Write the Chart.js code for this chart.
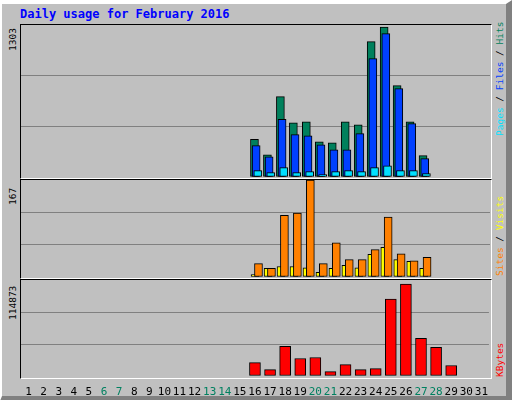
<!DOCTYPE html>
<html>
<head>
<meta charset="utf-8">
<script src="https://cdn.jsdelivr.net/npm/chart.js@4"></script>
<style>
  body { margin: 0; background: #c0c0c0; }
  #frame {
    position: absolute; left: 0; top: 0; width: 504px; height: 392px;
    background: #c0c0c0; border: 1px solid #000;
    border-top: 4px solid #fff; border-left: 2px solid #fff;
    border-right: 6px solid #808080; border-bottom: 5px solid #808080;
  }
  .panel {
    position: absolute; left: 20px; width: 470px;
    border-left: 1px solid #000; border-top: 1px solid #000;
    border-right: 1px solid #fff; border-bottom: 1px solid #fff;
  }
  canvas { position: absolute; }
  .txt { position: absolute; font: bold 12px "DejaVu Sans Mono", monospace; white-space: nowrap; }
  .rot { position: absolute; font: 9.5px "DejaVu Sans Mono", monospace; white-space: nowrap;
         transform-origin: 0 0; transform: rotate(-90deg); }
</style>
</head>
<body>
<div id="frame"></div>
<div class="txt" style="left:20px;top:7px;color:#0000ff">Daily usage for February 2016</div>

<div class="panel" style="top:24px;height:153px"></div>
<div class="panel" style="top:179px;height:98px"></div>
<div class="panel" style="top:279px;height:98px"></div>

<canvas id="top" style="left:21px;top:25px;width:469px;height:152px"></canvas>
<canvas id="mid" style="left:21px;top:180px;width:469px;height:97px"></canvas>
<canvas id="bot" style="left:21px;top:280px;width:469px;height:118px"></canvas>

<div class="rot" style="left:7px;top:51px">1303</div>
<div class="rot" style="left:7px;top:205px">167</div>
<div class="rot" style="left:7px;top:320px">114873</div>

<div class="rot" style="left:494px;top:136px"><span style="color:#00e0ff">Pages</span> / <span style="color:#0040ff">Files</span> / <span style="color:#00805c">Hits</span></div>
<div class="rot" style="left:494px;top:276px"><span style="color:#ff8000">Sites</span> / <span style="color:#ffff00">Visits</span></div>
<div class="rot" style="left:494px;top:377px"><span style="color:#ff0000">KBytes</span></div>

<script>
const days = [1,2,3,4,5,6,7,8,9,10,11,12,13,14,15,16,17,18,19,20,21,22,23,24,25,26,27,28,29,30,31];
const weekend = [6,7,13,14,20,21,27,28];
// values for days 1..31 (nothing before the 16th)
const hits   = [0,0,0,0,0,0,0,0,0,0,0,0,0,0,0,328,192,698,471,480,306,297,480,454,1176,1303,794,480,185,0,0];
const files  = [0,0,0,0,0,0,0,0,0,0,0,0,0,0,0,272,176,500,368,358,280,237,237,376,1028,1245,768,463,159,0,0];
const pages  = [0,0,0,0,0,0,0,0,0,0,0,0,0,0,0,55,38,81,38,46,20,46,55,46,81,98,55,55,29,0,0];
const visits = [0,0,0,0,0,0,0,0,0,0,0,0,0,0,0,4,15,18,18,16,8,15,20,16,39,51,30,27,15,0,0];
const sites  = [0,0,0,0,0,0,0,0,0,0,0,0,0,0,0,23,15,106,110,167,23,59,30,30,47,103,40,28,34,0,0];
const kbytes = [0,0,0,0,0,0,0,0,0,0,0,0,0,0,0,16800,8000,37000,21900,23100,5500,14300,8000,9300,96000,114873,47000,35700,13100,0,0];

function pts(vals, shift) {
  return vals.map((v, i) => ({ x: days[i] + shift, y: v || null }));
}
function bars(label, vals, color, shift, thick, order) {
  return { label, data: pts(vals, shift), backgroundColor: color, borderColor: '#000',
           borderWidth: 1, borderSkipped: false, barThickness: thick, grouped: false, order };
}
function yScale(max, step) {
  return {
    min: 0, max: max, display: true,
    ticks: { display: false, stepSize: step },
    border: { display: false },
    grid: { drawTicks: false, color: c => (c.tick.value > 0 && c.tick.value < max) ? '#808080' : 'rgba(0,0,0,0)' },
    afterFit: s => { s.width = 0; }
  };
}
const common = {
  responsive: false, animation: false,
  layout: { padding: 0 },
  plugins: { legend: { display: false }, tooltip: { enabled: false } }
};
function mk(id, w, h) {
  const c = document.getElementById(id);
  c.width = w; c.height = h;
  return c.getContext('2d');
}
const linX = { type: 'linear', min: 0.5, max: 31.5, display: false };

new Chart(mk('top', 469, 152), {
  type: 'bar',
  data: { datasets: [
    bars('Hits', hits, '#00805c', -0.08, 8, 3),
    bars('Files', files, '#0040ff', 0.05, 8, 2),
    bars('Pages', pages, '#00e0ff', 0.18, 8, 1)
  ] },
  options: Object.assign({}, common, { scales: { x: linX, y: yScale(1320, 440) } })
});

new Chart(mk('mid', 469, 97), {
  type: 'bar',
  data: { datasets: [
    bars('Visits', visits, '#ffff00', -0.03, 8, 2),
    bars('Sites', sites, '#ff8000', 0.23, 8, 1)
  ] },
  options: Object.assign({}, common, { scales: { x: linX, y: yScale(167, 55.67) } })
});

new Chart(mk('bot', 469, 118), {
  type: 'bar',
  data: { labels: days, datasets: [{
    label: 'KBytes', data: kbytes.map(v => v || null), backgroundColor: '#ff0000',
    borderColor: '#000', borderWidth: 1, borderSkipped: false, barThickness: 11
  }] },
  options: Object.assign({}, common, { scales: {
    x: {
      type: 'category', grid: { display: false }, border: { display: false },
      ticks: { autoSkip: false, maxRotation: 0, padding: 2,
               font: { family: 'DejaVu Sans Mono', size: 11 },
               color: c => weekend.includes(days[c.index]) ? '#008060' : '#000' },
      afterFit: s => { s.height = 22; }
    },
    y: yScale(120000, 40000)
  } })
});
</script>
</body>
</html>
